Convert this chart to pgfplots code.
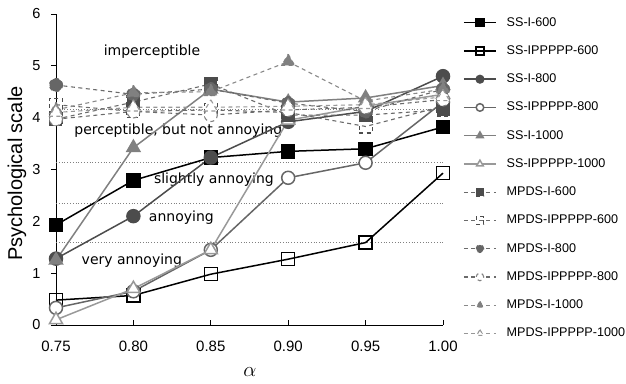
\documentclass[border=0pt]{standalone}
\usepackage{pgfplots}
\pgfplotsset{compat=1.18}
\usepackage{pgfplotstable}
\usepackage{fontspec}
\setmainfont{Liberation Sans}
\newfontfamily\annfont{DejaVu Sans}

% Psychological scale scores per alpha
\pgfplotstableread{
alpha ssIa  ssPa  ssIb  ssPb  ssIc  ssPc  mpIa  mpPa  mpIb  mpPb  mpIc  mpPc
0.75  1.93  0.48  1.28  0.33  1.25  0.10  3.97  4.25  4.63  3.97  4.15  4.10
0.80  2.79  0.57  2.10  0.65  3.42  0.70  4.30  4.12  4.45  4.12  4.48  4.20
0.85  3.23  0.98  3.23  1.45  4.55  1.45  4.65  4.15  4.55  4.05  4.50  4.20
0.90  3.35  1.27  3.92  2.84  4.30  3.95  4.05  4.10  4.28  4.15  5.08  4.22
0.95  3.40  1.59  4.12  3.13  4.38  4.22  4.05  3.83  4.12  4.20  4.32  4.25
1.00  3.82  2.93  4.80  4.30  4.62  4.45  4.15  4.22  4.55  4.35  4.55  4.40
}\scores

\definecolor{cA}{gray}{0.0}
\definecolor{cB}{gray}{0.30}
\definecolor{cC}{gray}{0.40}
\definecolor{cD}{gray}{0.50}
\definecolor{cE}{gray}{0.60}
\definecolor{cDash}{gray}{0.42}

\pgfplotsset{
  ss/.style={line width=1.5pt, mark size=6.5pt, mark options={solid, line width=0.8pt}},
  mp/.style={line width=1.1pt, dash pattern=on 4pt off 3.5pt, mark size=6.5pt, mark options={solid, line width=0.8pt}},
}

\begin{document}
\begin{tikzpicture}
\begin{axis}[
  name=ax,
  scale only axis,
  width=387pt, height=311pt,
  xmin=0.75, xmax=1.00, ymin=0, ymax=6,
  clip=false,
  axis x line*=bottom, axis y line*=left,
  axis line style={line width=0.8pt, black},
  xtick={0.75,0.80,0.85,0.90,0.95,1.00},
  ytick={0,1,2,3,4,5,6},
  xtick align=inside, ytick align=outside,
  major tick length=5pt,
  tick style={line width=0.8pt, black},
  /pgf/number format/assume math mode=true,
  x tick label style={/pgf/number format/.cd, fixed, fixed zerofill, precision=2, /tikz/.cd,
    font=\fontsize{15}{18}\selectfont, yshift=-12pt},
  y tick label style={font=\fontsize{14.5}{17}\selectfont, xshift=-7pt},
  ylabel={Psychological scale},
  every axis y label/.style={at={(axis description cs:-0.101,0.487)}, rotate=90, anchor=center,
    font=\fontsize{20}{24}\selectfont},
  xlabel={$\alpha$},
  every axis x label/.style={at={(axis description cs:0.501,-0.151)}, anchor=center,
    font=\fontsize{21}{24}\selectfont},
  legend style={draw=none, fill=none, at={(axis description cs:1,1)}, anchor=north west,
    xshift=20pt, yshift=0pt, inner sep=0pt,
    font=\fontsize{12.6}{15}\selectfont, row sep=11.25pt,
    nodes={text height=10pt, text depth=3pt}},
  legend cell align=left,
  legend image code/.code={%
    \draw[mark repeat=2,mark phase=2,mark size=3.8pt] plot coordinates {(0pt,0pt) (16pt,0pt) (32pt,0pt)};
    \path (0pt,0pt) (40pt,0pt);},
]
% category boundaries
\addplot[forget plot, gray, dotted, line width=0.8pt] coordinates {(0.75,4.15) (1.00,4.15)};
\addplot[forget plot, gray, dotted, line width=0.8pt] coordinates {(0.75,3.13) (1.00,3.13)};
\addplot[forget plot, gray, dotted, line width=0.8pt] coordinates {(0.75,2.34) (1.00,2.34)};
\addplot[forget plot, gray, dotted, line width=0.8pt] coordinates {(0.75,1.60) (1.00,1.60)};

\node[font=\annfont\fontsize{14}{16}\selectfont] at (axis cs:0.812,5.28) {imperceptible};
\node[font=\annfont\fontsize{14}{16}\selectfont] at (axis cs:0.829,3.75) {perceptible, but not annoying};
\node[font=\annfont\fontsize{14}{16}\selectfont] at (axis cs:0.852,2.81) {slightly annoying};
\node[font=\annfont\fontsize{14}{16}\selectfont] at (axis cs:0.831,2.07) {annoying};
\node[font=\annfont\fontsize{14}{16}\selectfont] at (axis cs:0.799,1.24) {very annoying};

% single-stream curves
\addplot[ss, color=cA, mark=square*, mark options={fill=cA}] table[x=alpha, y=ssIa] {\scores};
\addlegendentry{SS-I-600}
\addplot[ss, color=cA, mark=square, mark options={fill=white}] table[x=alpha, y=ssPa] {\scores};
\addlegendentry{SS-IPPPPP-600}
\addplot[ss, color=cB, mark=*, mark options={fill=cB}] table[x=alpha, y=ssIb] {\scores};
\addlegendentry{SS-I-800}
\addplot[ss, color=cC, mark=*, mark options={fill=white}] table[x=alpha, y=ssPb] {\scores};
\addlegendentry{SS-IPPPPP-800}
\addplot[ss, color=cD, mark=triangle*, mark size=7.5pt, mark options={fill=cD}] table[x=alpha, y=ssIc] {\scores};
\addlegendentry{SS-I-1000}
\addplot[ss, color=cE, mark=triangle*, mark size=7.5pt, mark options={fill=white}] table[x=alpha, y=ssPc] {\scores};
\addlegendentry{SS-IPPPPP-1000}

% multi-path curves
\addplot[mp, color=cDash, mark=square*, mark options={draw=cB, fill=cB}] table[x=alpha, y=mpIa] {\scores};
\addlegendentry{MPDS-I-600}
\addplot[mp, color=cDash, mark=square, mark options={draw=cB, fill=white}] table[x=alpha, y=mpPa] {\scores};
\addlegendentry{MPDS-IPPPPP-600}
\addplot[mp, color=cDash, mark=*, mark options={draw=cC, fill=cC}] table[x=alpha, y=mpIb] {\scores};
\addlegendentry{MPDS-I-800}
\addplot[mp, color=cDash, mark=*, mark options={draw=cD, fill=white}] table[x=alpha, y=mpPb] {\scores};
\addlegendentry{MPDS-IPPPPP-800}
\addplot[mp, color=cDash!80, mark=triangle*, mark size=7.5pt, mark options={draw=cD, fill=cD}] table[x=alpha, y=mpIc] {\scores};
\addlegendentry{MPDS-I-1000}
\addplot[mp, color=cDash!70, mark=triangle*, mark size=7.5pt, mark options={draw=cE, fill=white}] table[x=alpha, y=mpPc] {\scores};
\addlegendentry{MPDS-IPPPPP-1000}
\end{axis}
\pgfresetboundingbox
\useasboundingbox ([xshift=-56pt,yshift=-59pt]ax.south west) rectangle ([xshift=183pt,yshift=14pt]ax.north east);
\end{tikzpicture}
\end{document}
